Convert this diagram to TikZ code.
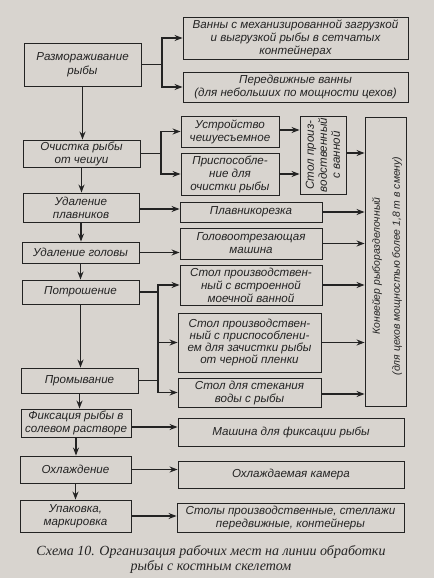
\documentclass[tikz,border=0pt]{standalone}
\usepackage{fontspec}
\setmainfont{Liberation Sans}
\newfontfamily\capfont{Liberation Serif}
\usetikzlibrary{arrows.meta}
\definecolor{paper}{RGB}{216,212,207}
\definecolor{ink}{RGB}{35,35,35}
\begin{document}
\begin{tikzpicture}[x=1pt,y=-1pt,
  box/.style={draw=ink, line width=0.9pt, inner sep=0pt, align=center, text=ink,
    font=\itshape\fontsize{11.6}{13}\selectfont},
  vtext/.style={rotate=90, align=center, text=ink, inner sep=0pt,
    font=\itshape\fontsize{11.6}{13}\selectfont},
  arr/.style={draw=ink, line width=1.1pt, -{Stealth[length=8pt,width=6pt]}},
  ln/.style={draw=ink, line width=1.1pt}]
\fill[paper] (0,0) rectangle (434,578);
\useasboundingbox (0,0) rectangle (434,578);
% left column
\node[box, minimum width=117, minimum height=43, font=\itshape\fontsize{11.6}{14}\selectfont] (L1) at (82.5,64.5) {Размораживание\\рыбы};
\node[box, minimum width=117, minimum height=27] (L2) at (81.5,153.5) {Очистка рыбы\\от чешуи};
\node[box, minimum width=116, minimum height=29] (L3) at (81,207.5) {Удаление\\плавников};
\node[box, minimum width=117, minimum height=21] (L4) at (80.5,252.5) {Удаление головы};
\node[box, minimum width=117, minimum height=24] (L5) at (80.5,292) {Потрошение};
\node[box, minimum width=117, minimum height=25] (L6) at (79.5,380.5) {Промывание};
\node[box, minimum width=110, minimum height=28] (L7) at (76,423) {Фиксация рыбы в\\солевом растворе};
\node[box, minimum width=111, minimum height=27] (L8) at (75.5,469.5) {Охлаждение};
\node[box, minimum width=111, minimum height=32] (L9) at (75.5,516) {Упаковка,\\маркировка};
% right column
\node[box, minimum width=225, minimum height=42] (R1) at (295.5,38) {Ванны с механизированной загрузкой\\и выгрузкой рыбы в сетчатых\\контейнерах};
\node[box, minimum width=225, minimum height=30] (R2) at (295.5,87) {Передвижные ванны\\(для небольших по мощности цехов)};
\node[box, minimum width=98, minimum height=31] (R3) at (230,131.5) {Устройство\\чешуесъемное};
\node[box, minimum width=98, minimum height=42] (R4) at (230,174) {Приспособле-\\ние для\\очистки рыбы};
\node[box, minimum width=46, minimum height=78] (R5) at (323,155) {};
\node[vtext] (R5t) at (R5.center) {Стол произ-\\водственный\\с ванной};
\node[box, minimum width=41, minimum height=289] (CV) at (385.5,261.5) {};
\node[vtext, font=\itshape\fontsize{10.4}{20}\selectfont] (CVt) at (387,266) {Конвейер рыборазделочный\\(для цехов мощностью более 1,8 т в смену)};
\node[box, minimum width=142, minimum height=20] (R6) at (251,212) {Плавникорезка};
\node[box, minimum width=142, minimum height=31] (R7) at (251,243.5) {Головоотрезающая\\машина};
\node[box, minimum width=142, minimum height=40] (R8) at (251,285) {Стол производствен-\\ный с встроенной\\моечной ванной};
\node[box, minimum width=143, minimum height=59, font=\itshape\fontsize{11.6}{12.2}\selectfont] (R9) at (249.5,342.5) {Стол производствен-\\ный с приспособлени-\\ем для зачистки рыбы\\от черной пленки};
\node[box, minimum width=143, minimum height=29] (R10) at (249.5,392.5) {Стол для стекания\\воды с рыбы};
\node[box, minimum width=226, minimum height=28] (R11) at (291,432) {Машина для фиксации рыбы};
\node[box, minimum width=226, minimum height=27] (R12) at (291,474.5) {Охлаждаемая камера};
\node[box, minimum width=227, minimum height=29] (R13) at (290.5,517.5) {Столы производственные, стеллажи\\передвижные, контейнеры};
% caption
\node[align=center, text=ink, inner sep=0pt, font=\capfont\itshape\fontsize{14}{15}\selectfont] (cap) at (211,559.5)
  {Схема 10. Организация рабочих мест на линии обработки\\рыбы с костным скелетом};
% vertical flow
\draw[arr] (L1.south) -- (L1.south |- L2.north);
\draw[arr] (L2.south) -- (L2.south |- L3.north);
\draw[arr] (L3.south) -- (L3.south |- L4.north);
\draw[arr] (L4.south) -- (L4.south |- L5.north);
\draw[arr] (L5.south) -- (L5.south |- L6.north);
\draw[arr] (L6.south) -- (L6.south |- L7.north);
\draw[arr] (L7.south) -- (L7.south |- L8.north);
\draw[arr] (L8.south) -- (L8.south |- L9.north);
% branches
\coordinate (b1) at (162,0);
\draw[arr] (L1.east) -- (L1.east -| b1) |- (R1.west);
\draw[arr] (L1.east -| b1) |- (R2.west);
\coordinate (b2) at (161,0);
\draw[arr] (L2.east) -- (L2.east -| b2) |- (R3.west);
\draw[arr] (L2.east -| b2) |- (R4.west);
\draw[arr] ([yshift=1.5pt]R3.east) -- ([yshift=1.5pt]R3.east -| R5.west);
\draw[arr] (R4.east) -- (R4.east -| R5.west);
\draw[arr] ([yshift=2pt]R5.east) -- ([yshift=2pt]R5.east -| CV.west);
\draw[arr] ([yshift=-1.5pt]L3.east) -- ([yshift=-1.5pt]L3.east -| R6.west);
\draw[arr] (R6.east) -- (R6.east -| CV.west);
\draw[arr] (L4.east) -- (L4.east -| R7.west);
\draw[arr] (R7.east) -- (R7.east -| CV.west);
\coordinate (bx) at (158,0);
\draw[arr] (L5.east) -- (L5.east -| bx) |- (R8.west);
\draw[arr] (L5.east -| bx) |- (R9.west);
\draw[arr] (L6.east) -- (L6.east -| bx) |- (R10.west);
\draw[ln] (L5.east -| bx) -- (L6.east -| bx);
\draw[arr] (R8.east) -- (R8.east -| CV.west);
\draw[arr] (R9.east) -- (R9.east -| CV.west);
\draw[arr] ([yshift=-1.5pt]R10.east) -- ([yshift=-1.5pt]R10.east -| CV.west);
\draw[arr] ([yshift=-4pt]L7.east) -- ([yshift=-4pt]L7.east -| R11.west);
\draw[arr] (L8.east) -- (L8.east -| R12.west);
\draw[arr] (L9.east) -- (L9.east -| R13.west);
\end{tikzpicture}
\end{document}
